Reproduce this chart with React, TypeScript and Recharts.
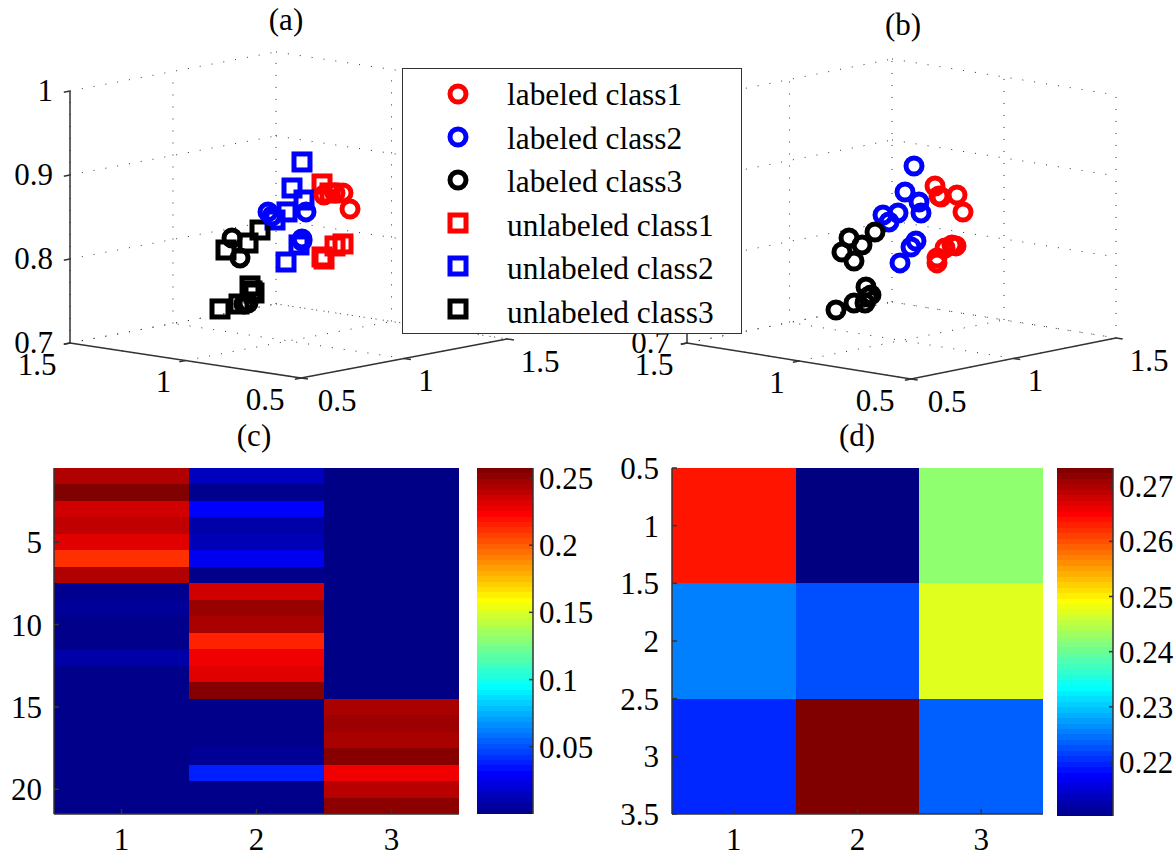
import { ScatterChart, Scatter, XAxis, YAxis, ReferenceLine, ReferenceDot, ReferenceArea } from "recharts";

const SERIF = "'Liberation Serif', 'Times New Roman', serif";
const FONT_SIZE = 31;
const RED = "#ff0000";
const BLUE = "#0000ff";
const BLACK = "#000000";

type Pair = [number, number];

// panel (a): u = horizontal position, v = height read on the z scale
const aUnlabeled1: Pair[] = [[3.22, 0.8893], [3.3, 0.8786], [3.43, 0.8179], [3.35, 0.8155], [3.22, 0.8024], [3.24, 0.8]];
const aUnlabeled2: Pair[] = [[3.02, 0.9155], [2.92, 0.8845], [3.04, 0.8702], [2.87, 0.856], [2.75, 0.8464], [2.99, 0.8167], [2.86, 0.7964]];
const aUnlabeled3: Pair[] = [[2.6, 0.8345], [2.48, 0.819], [2.26, 0.8107], [2.5, 0.7679], [2.54, 0.7595], [2.52, 0.7619], [2.39, 0.7464], [2.2, 0.7405]];
const aLabeled1: Pair[] = [[3.24, 0.8762], [3.35, 0.8786], [3.43, 0.8786], [3.5, 0.8595]];
const aLabeled2: Pair[] = [[2.68, 0.856], [2.72, 0.8512], [3.06, 0.856], [3.02, 0.8238], [3.02, 0.8214]];
const aLabeled3: Pair[] = [[2.32, 0.825], [2.4, 0.8012], [2.48, 0.7476], [2.44, 0.7464]];

// panel (b)
const bLabeled1: Pair[] = [[3.15, 0.8938], [3.21, 0.8802], [3.19, 0.8815], [3.37, 0.8827], [3.43, 0.8617], [3.17, 0.8049], [3.17, 0.7988], [3.25, 0.8173], [3.32, 0.821], [3.36, 0.8198]];
const bLabeled2: Pair[] = [[2.94, 0.9185], [2.85, 0.8864], [2.99, 0.8741], [3.01, 0.8605], [2.78, 0.8605], [2.63, 0.858], [2.69, 0.8494], [2.96, 0.8259], [2.91, 0.8185], [2.8, 0.7988]];
const bLabeled3: Pair[] = [[2.55, 0.837], [2.29, 0.8296], [2.42, 0.821], [2.22, 0.8123], [2.34, 0.8012], [2.46, 0.7691], [2.51, 0.7593], [2.48, 0.7568], [2.45, 0.7494], [2.34, 0.7494], [2.16, 0.7407]];

// panel (c): membership per sample, one array per class
const cClass1 = [0.245, 0.257, 0.237, 0.241, 0.233, 0.213, 0.245, 0.004, 0.0065, 0.003, 0.003, 0.0103, 0.003, 0.003, 0.003, 0.003, 0.003, 0.003, 0.003, 0.003, 0.003];
const cClass2 = [0.016, 0.004, 0.032, 0.0103, 0.014, 0.028, 0.003, 0.237, 0.251, 0.247, 0.217, 0.229, 0.233, 0.256, 0.003, 0.003, 0.003, 0.006, 0.04, 0.003, 0.003];
const cClass3 = [0.002, 0.002, 0.002, 0.002, 0.002, 0.002, 0.002, 0.002, 0.002, 0.002, 0.002, 0.002, 0.002, 0.002, 0.247, 0.25, 0.247, 0.2555, 0.229, 0.243, 0.254];
const cTicksY = [5, 10, 15, 20];
const cBarTicks = [0.05, 0.1, 0.15, 0.2, 0.25];

// panel (d)
const dClass1 = [0.2642, 0.226, 0.2205];
const dClass2 = [0.2102, 0.223, 0.2733];
const dClass3 = [0.2428, 0.2477, 0.224];
const dTicksY = [0.5, 1, 1.5, 2, 2.5, 3, 3.5];
const dBarTicks = [0.22, 0.23, 0.24, 0.25, 0.26, 0.27];

const classTicks = [1, 2, 3];
const cubeTicks = [0.5, 1, 1.5];
const zTicks = [0.7, 0.8, 0.9, 1];

const legendRows = [
  { name: "labeled class1", color: RED, square: false },
  { name: "labeled class2", color: BLUE, square: false },
  { name: "labeled class3", color: BLACK, square: false },
  { name: "unlabeled class1", color: RED, square: true },
  { name: "unlabeled class2", color: BLUE, square: true },
  { name: "unlabeled class3", color: BLACK, square: true },
];

const clamp = (n: number) => Math.max(0, Math.min(1, n));
const toHex = (n: number) => Math.round(clamp(n) * 255).toString(16).padStart(2, "0");
const jet = (t: number) =>
  "#" +
  toHex(Math.min(4 * t - 1.5, -4 * t + 4.5)) +
  toHex(Math.min(4 * t - 0.5, -4 * t + 3.5)) +
  toHex(Math.min(4 * t + 0.5, -4 * t + 2.5));

const toPoints = (list: Pair[]) => list.map(([u, v]) => ({ u, v }));
const noMark = () => <g />;

const Circle = (props: any) => (
  <circle cx={props.cx} cy={props.cy} r={8} fill="none" stroke={props.color} strokeWidth={5} />
);
const Square = (props: any) => (
  <rect x={props.cx - 8} y={props.cy - 8} width={16} height={16} fill="none" stroke={props.color} strokeWidth={5} />
);

type Corner = { u: number; v: number };

type CubeProps = {
  left: number;
  top: number;
  width: number;
  height: number;
  vDomain: [number, number];
  cornerL: Corner;
  cornerB: Corner;
  cornerR: Corner;
  squares: { data: Pair[]; color: string }[];
  circles: { data: Pair[]; color: string }[];
  labelZ: number[];
};

function Cube({ left, top, width, height, vDomain, cornerL, cornerB, cornerR, squares, circles, labelZ }: CubeProps) {
  const project = (x: number, y: number, z: number) => ({
    x: cornerB.u + (x - 0.5) * (cornerR.u - cornerB.u) + (y - 0.5) * (cornerL.u - cornerB.u),
    y: cornerB.v + (x - 0.5) * (cornerR.v - cornerB.v) + (y - 0.5) * (cornerL.v - cornerB.v) + (z - 0.7),
  });

  const dotted: [any, any][] = [];
  zTicks.forEach((z) => {
    dotted.push([project(0.5, 1.5, z), project(1.5, 1.5, z)]);
    dotted.push([project(1.5, 1.5, z), project(1.5, 0.5, z)]);
  });
  cubeTicks.forEach((t) => {
    dotted.push([project(t, 1.5, 0.7), project(t, 1.5, 1)]);
    if (t < 1.5) dotted.push([project(1.5, t, 0.7), project(1.5, t, 1)]);
    dotted.push([project(t, 0.5, 0.7), project(t, 1.5, 0.7)]);
    dotted.push([project(0.5, t, 0.7), project(1.5, t, 0.7)]);
  });

  const solid: [any, any][] = [
    [project(0.5, 1.5, 0.7), project(0.5, 1.5, 1)],
    [project(0.5, 1.5, 0.7), project(0.5, 0.5, 0.7)],
    [project(0.5, 0.5, 0.7), project(1.5, 0.5, 0.7)],
  ];
  zTicks.forEach((z) => solid.push([project(0.5, 1.5, z), project(0.47, 1.5, z)]));
  cubeTicks.forEach((t) => {
    solid.push([project(0.5, t, 0.7), project(0.47, t, 0.7)]);
    solid.push([project(t, 0.5, 0.7), project(t, 0.47, 0.7)]);
  });

  const offsetX: Record<string, number> = { "0.5": 36, "1": 22, "1.5": 33 };

  const label = (text: string, at: { x: number; y: number }, dx: number, dy: number, anchor: string, key: string) => (
    <ReferenceDot
      key={key}
      x={at.x}
      y={at.y}
      r={0}
      ifOverflow="visible"
      shape={(p: any) => (
        <text x={p.cx + dx} y={p.cy + dy} textAnchor={anchor} fontFamily={SERIF} fontSize={FONT_SIZE} fill="#000">
          {text}
        </text>
      )}
    />
  );

  return (
    <div style={{ position: "absolute", left, top }}>
      <ScatterChart width={width} height={height} margin={{ top: 0, right: 0, bottom: 0, left: 0 }}>
        <XAxis type="number" dataKey="u" domain={[0, width / 100]} hide />
        <YAxis type="number" dataKey="v" domain={vDomain} hide />
        {dotted.map((seg, i) => (
          <ReferenceLine key={`d${i}`} segment={seg} ifOverflow="visible" stroke="#333" strokeWidth={1} strokeDasharray="1 11" />
        ))}
        {solid.map((seg, i) => (
          <ReferenceLine key={`s${i}`} segment={seg} ifOverflow="visible" stroke="#333" strokeWidth={1.5} />
        ))}
        {labelZ.map((z) =>
          label(String(z), project(0.5, 1.5, z), -17, 10, "end", `z${z}`)
        )}
        {cubeTicks.map((t) => label(String(t), project(0.5, t, 0.7), -offsetX[String(t)], 32, "middle", `y${t}`))}
        {cubeTicks.map((t) => label(String(t), project(t, 0.5, 0.7), offsetX[String(t)], 33, "middle", `x${t}`))}
        {squares.map((s, i) => (
          <Scatter
            key={`q${i}`}
            data={toPoints(s.data)}
            isAnimationActive={false}
            shape={(p: any) => <Square {...p} color={s.color} />}
          />
        ))}
        {circles.map((s, i) => (
          <Scatter
            key={`c${i}`}
            data={toPoints(s.data)}
            isAnimationActive={false}
            shape={(p: any) => <Circle {...p} color={s.color} />}
          />
        ))}
      </ScatterChart>
    </div>
  );
}

const tickStyle = { fill: "#000", fontSize: FONT_SIZE, fontFamily: SERIF };
const frame = { stroke: "#333", strokeWidth: 1.5 };

type HeatProps = {
  left: number;
  plotLeft: number;
  plotWidth: number;
  columns: number[][];
  ticksY: number[];
  clim: [number, number];
  labelGap: number;
};

function Heatmap({ left, plotLeft, plotWidth, columns, ticksY, clim, labelGap }: HeatProps) {
  const rows = columns[0].length;
  const margin = { top: 28, right: 12, bottom: 0, left: 0 };
  const centres = columns.flatMap((col, c) => col.map((_, r) => ({ cx: c + 1, cy: r + 1 })));
  return (
    <div style={{ position: "absolute", left, top: 440 }}>
      <ScatterChart width={plotLeft - left + plotWidth + 12} height={415} margin={margin}>
        <Scatter data={centres} isAnimationActive={false} shape={noMark} />
        <Scatter data={centres} xAxisId="top" yAxisId="right" isAnimationActive={false} shape={noMark} />
        {columns.map((col, c) =>
          col.map((value, r) => (
            <ReferenceArea
              key={`${c}-${r}`}
              x1={c + 0.5}
              x2={c + 1.5}
              y1={r + 0.5}
              y2={r + 1.5}
              fill={jet((value - clim[0]) / (clim[1] - clim[0]))}
              fillOpacity={1}
              stroke="none"
              shapeRendering="crispEdges"
              ifOverflow="visible"
            />
          ))
        )}
        <XAxis
          type="number"
          dataKey="cx"
          domain={[0.5, 3.5]}
          ticks={classTicks}
          interval={0}
          height={41}
          tickSize={-5}
          tickMargin={19}
          axisLine={frame}
          tickLine={frame}
          tick={tickStyle}
        />
        <XAxis xAxisId="top" orientation="top" dataKey="cx" type="number" domain={[0.5, 3.5]} ticks={classTicks} interval={0} height={0} tickSize={-5} tick={false} axisLine={frame} tickLine={frame} />
        <YAxis
          type="number"
          dataKey="cy"
          reversed
          domain={[0.5, rows + 0.5]}
          ticks={ticksY}
          interval={0}
          width={plotLeft - left}
          tickSize={-5}
          tickMargin={labelGap}
          axisLine={frame}
          tickLine={frame}
          tick={tickStyle}
        />
        <YAxis yAxisId="right" orientation="right" dataKey="cy" type="number" reversed domain={[0.5, rows + 0.5]} ticks={ticksY} interval={0} width={0} tickSize={-5} tick={false} axisLine={frame} tickLine={frame} />
      </ScatterChart>
    </div>
  );
}

function ColorBar({ left, clim, ticks, plotHeight }: { left: number; clim: [number, number]; ticks: number[]; plotHeight: number }) {
  const levels = Array.from({ length: 64 }, (_, i) => i);
  const step = (clim[1] - clim[0]) / 64;
  const centres = levels.map((i) => ({ cx: 0.5, cy: clim[0] + (i + 0.5) * step }));
  return (
    <div style={{ position: "absolute", left, top: 440 }}>
      <ScatterChart width={125} height={plotHeight + 36} margin={{ top: 28, right: 0, bottom: 8, left: 0 }}>
        <Scatter data={centres} isAnimationActive={false} shape={noMark} />
        <Scatter data={centres} xAxisId="top" yAxisId="left" isAnimationActive={false} shape={noMark} />
        {levels.map((i) => (
          <ReferenceArea
            key={i}
            x1={0}
            x2={1}
            y1={clim[0] + i * step}
            y2={clim[0] + (i + 1) * step}
            fill={jet((i + 1) / 64)}
            fillOpacity={1}
            stroke="none"
            shapeRendering="crispEdges"
            ifOverflow="visible"
          />
        ))}
        <XAxis type="number" dataKey="cx" domain={[0, 1]} ticks={[]} height={0} axisLine={frame} tick={false} tickLine={false} />
        <XAxis xAxisId="top" orientation="top" dataKey="cx" type="number" domain={[0, 1]} ticks={[]} height={0} axisLine={frame} tick={false} tickLine={false} />
        <YAxis yAxisId="left" dataKey="cy" type="number" domain={clim} ticks={ticks} interval={0} width={0} tickSize={-4} tick={false} axisLine={frame} tickLine={frame} />
        <YAxis type="number" dataKey="cy" orientation="right" domain={clim} ticks={ticks} interval={0} width={69} tickSize={-4} tickMargin={10} axisLine={frame} tickLine={frame} tick={tickStyle} />
      </ScatterChart>
    </div>
  );
}

function PanelTitle({ text, x, baseline }: { text: string; x: number; baseline: number }) {
  return (
    <div
      style={{
        position: "absolute",
        left: x - 40,
        top: baseline - 25,
        width: 80,
        textAlign: "center",
        fontFamily: SERIF,
        fontSize: 31,
        lineHeight: "30px",
        color: "#000",
      }}
    >
      {text}
    </div>
  );
}

function LegendBox() {
  return (
    <div
      style={{
        position: "absolute",
        left: 402,
        top: 68,
        width: 340,
        height: 266,
        border: "1.5px solid #333",
        background: "#fff",
        boxSizing: "border-box",
        zIndex: 5,
      }}
    >
      <svg width={338} height={264}>
        {legendRows.map((row, i) => {
          const my = 25 + i * 43;
          const ty = 36 + i * 43.6;
          return (
            <g key={row.name}>
              {row.square ? (
                <Square cx={55} cy={my} color={row.color} />
              ) : (
                <Circle cx={55} cy={my} color={row.color} />
              )}
              <text x={104} y={ty} fontFamily={SERIF} fontSize={31.4} fill="#000">
                {row.name}
              </text>
            </g>
          );
        })}
      </svg>
    </div>
  );
}

export default function App() {
  return (
    <div style={{ position: "absolute", left: 0, top: 0, width: 1176, height: 855, background: "#fff", overflow: "hidden" }}>
      <Cube
        left={0}
        top={30}
        width={600}
        height={390}
        vDomain={[0.6083, 1.0726]}
        cornerL={{ u: 0.7, v: 0.7 }}
        cornerB={{ u: 3.01, v: 0.6583 }}
        cornerR={{ u: 5.07, v: 0.7048 }}
        labelZ={zTicks}
        squares={[
          { data: aUnlabeled1, color: RED },
          { data: aUnlabeled2, color: BLUE },
          { data: aUnlabeled3, color: BLACK },
        ]}
        circles={[
          { data: aLabeled1, color: RED },
          { data: aLabeled2, color: BLUE },
          { data: aLabeled3, color: BLACK },
        ]}
      />
      <Cube
        left={620}
        top={30}
        width={556}
        height={390}
        vDomain={[0.6049, 1.0864]}
        cornerL={{ u: 0.67, v: 0.7 }}
        cornerB={{ u: 2.91, v: 0.6556 }}
        cornerR={{ u: 4.96, v: 0.7062 }}
        labelZ={[0.7]}
        squares={[]}
        circles={[
          { data: bLabeled1, color: RED },
          { data: bLabeled2, color: BLUE },
          { data: bLabeled3, color: BLACK },
        ]}
      />
      <LegendBox />
      <Heatmap left={0} plotLeft={54} plotWidth={405} columns={[cClass1, cClass2, cClass3]} ticksY={cTicksY} clim={[0, 0.2574]} labelGap={17} />
      <ColorBar left={477} clim={[0, 0.2574]} ticks={cBarTicks} plotHeight={346} />
      <Heatmap left={600} plotLeft={672} plotWidth={371} columns={[dClass1, dClass2, dClass3]} ticksY={dTicksY} clim={[0.2102, 0.2733]} labelGap={18} />
      <ColorBar left={1057} clim={[0.2102, 0.2733]} ticks={dBarTicks} plotHeight={348} />
      <PanelTitle text="(a)" x={286} baseline={30} />
      <PanelTitle text="(b)" x={903} baseline={35} />
      <PanelTitle text="(c)" x={254} baseline={446} />
      <PanelTitle text="(d)" x={857} baseline={446} />
    </div>
  );
}
